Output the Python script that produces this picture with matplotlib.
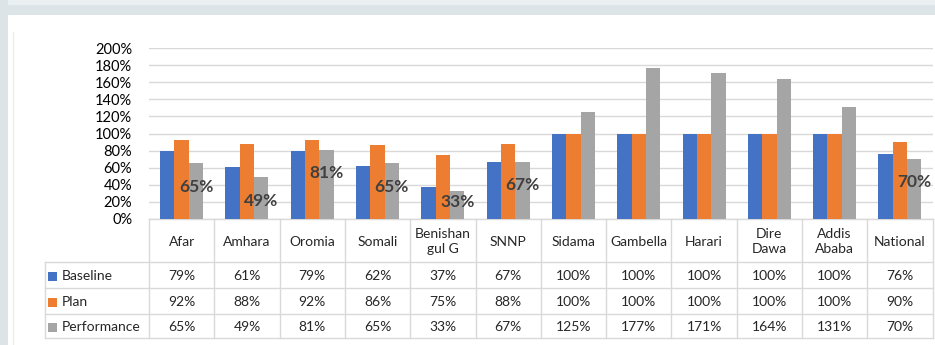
import numpy as np
import matplotlib.pyplot as plt
from matplotlib.patches import Rectangle

plt.rcParams['font.family'] = ['Lato', 'DejaVu Sans']

# regions and the three series (fractions)
regions = ['Afar', 'Amhara', 'Oromia', 'Somali', 'Benishan\ngul G', 'SNNP',
           'Sidama', 'Gambella', 'Harari', 'Dire\nDawa', 'Addis\nAbaba', 'National']
baseline = [0.79, 0.61, 0.79, 0.62, 0.37, 0.67, 1.00, 1.00, 1.00, 1.00, 1.00, 0.76]
plan = [0.92, 0.88, 0.92, 0.86, 0.75, 0.88, 1.00, 1.00, 1.00, 1.00, 1.00, 0.90]
performance = [0.65, 0.49, 0.81, 0.65, 0.33, 0.67, 1.25, 1.77, 1.71, 1.64, 1.31, 0.70]
series_names = ['Baseline', 'Plan', 'Performance']
colors = ['#4472C4', '#ED7D31', '#A5A5A5']

# only some performance bars carry a label; height where the label sits
labelled = [0, 1, 2, 3, 4, 5, 11]
label_frac = {0: 0.57, 1: 0.43, 2: 0.67, 3: 0.57, 4: 0.60, 5: 0.60, 11: 0.62}

W, H = 935, 345
fig = plt.figure(figsize=(W / 100, H / 100), dpi=100)

# page background / frame, in pixel coordinates
bg = fig.add_axes([0, 0, 1, 1], zorder=0)
bg.set_xlim(0, W)
bg.set_ylim(H, 0)
bg.axis('off')
bg.add_patch(Rectangle((0, 0), W, 5, color='#EAF0F1', lw=0))
bg.add_patch(Rectangle((0, 5), W, 10, color='#DCE4E8', lw=0))
bg.add_patch(Rectangle((0, 0), 8, H, color='#DCE4E8', lw=0))
bg.plot([13, 13], [32, H], color='#EDEDED', lw=1)

# bar chart
x0, cw = 149, 65.3
y0, y200 = 219, 48
ax = fig.add_axes([x0 / W, 1 - y0 / H, 12 * cw / W, (y0 - y200) / H], zorder=2)
ax.set_facecolor('none')
x = np.arange(len(regions))
bw = 0.22
for k, vals in enumerate([baseline, plan, performance]):
    ax.bar(x + (k - 1) * bw, vals, bw, color=colors[k], zorder=3)

for i in labelled:
    ax.text(x[i] + bw, performance[i] * label_frac[i], f'{performance[i]:.0%}',
            ha='center', va='center', fontsize=12.5, fontweight='bold',
            color='#404040', zorder=4)

ax.set_xlim(-0.5, len(regions) - 0.5)
ax.set_ylim(0, 2)
ax.set_yticks(np.arange(0, 2.01, 0.2))
ax.set_yticklabels([f'{v:.0%}' for v in np.arange(0, 2.01, 0.2)], fontsize=10.5)
ax.tick_params(axis='y', length=0, pad=12)
ax.set_xticks([])
ax.grid(axis='y', color='#D9D9D9', lw=1, zorder=0)
for s in ax.spines.values():
    s.set_visible(False)

# data table under the bars
tb = fig.add_axes([0, 0, 1, 1], zorder=1)
tb.set_xlim(0, W)
tb.set_ylim(H, 0)
tb.axis('off')
tb.set_facecolor('none')
line_c = '#D9D9D9'
rows = [219, 262, 288, 314, 338]
x_right = x0 + 12 * cw
leg_left = 45

tb.plot([x0, x_right], [rows[0], rows[0]], color=line_c, lw=1)
for r in rows[1:]:
    tb.plot([leg_left, x_right], [r, r], color=line_c, lw=1)
for j in range(13):
    xx = x0 + j * cw
    tb.plot([xx, xx], [rows[0], rows[-1]], color=line_c, lw=1)
tb.plot([leg_left, leg_left], [rows[1], rows[-1]], color=line_c, lw=1)

for j, name in enumerate(regions):
    xc = x0 + (j + 0.5) * cw
    tb.text(xc, (rows[0] + rows[1]) / 2 + 1, name, ha='center', va='center',
            fontsize=10, color='#262626', linespacing=1.25)
    for k, vals in enumerate([baseline, plan, performance]):
        tb.text(xc, (rows[k + 1] + rows[k + 2]) / 2 + 1, f'{vals[j]:.0%}',
                ha='center', va='center', fontsize=10, color='#262626')

for k, name in enumerate(series_names):
    yc = (rows[k + 1] + rows[k + 2]) / 2 + 1
    tb.add_patch(Rectangle((48, yc - 4.5), 9, 9, color=colors[k], lw=0))
    tb.text(62, yc, name, ha='left', va='center', fontsize=10, color='#262626')

fig.savefig('out.png', dpi=100)
